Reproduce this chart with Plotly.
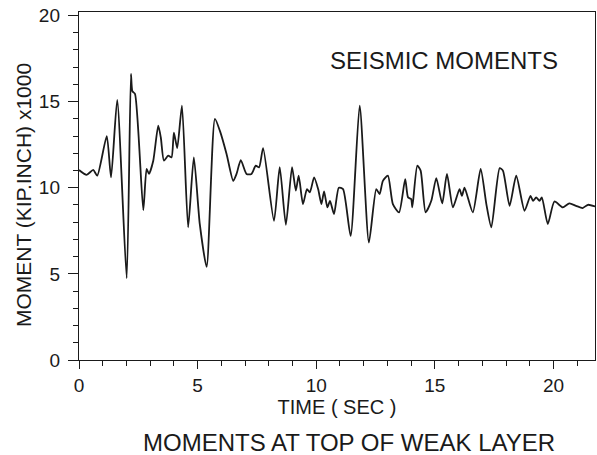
import plotly.graph_objects as go

time_sec = [0.0, 0.32, 0.6, 0.77, 1.17, 1.35, 1.61, 2.01, 2.19, 2.25, 2.36, 2.71, 2.85, 2.95,
            3.13, 3.34, 3.45, 3.58, 3.76, 3.9, 4.0, 4.14, 4.34, 4.6, 4.84, 5.09, 5.38, 5.73,
            5.94, 6.22, 6.5, 6.64, 6.82, 7.06, 7.27, 7.45, 7.59, 7.76, 8.22, 8.46, 8.72,
            8.98, 9.14, 9.26, 9.44, 9.61, 9.73, 9.91, 10.08, 10.22, 10.33, 10.47, 10.58,
            10.75, 10.95, 11.13, 11.45, 11.83, 12.22, 12.53, 12.67, 12.81, 13.02, 13.23,
            13.49, 13.75, 13.87, 14.0, 14.05, 14.26, 14.4, 14.61, 14.85, 15.06, 15.31,
            15.51, 15.76, 16.04, 16.14, 16.25, 16.6, 16.93, 17.17, 17.38, 17.73, 17.87,
            18.15, 18.43, 18.78, 19.03, 19.14, 19.27, 19.41, 19.51, 19.76, 20.04, 20.39,
            20.67, 20.95, 21.23, 21.45, 21.76]
moment_k = [11.03, 10.75, 11.03, 10.7, 13.0, 10.6, 15.1, 4.75, 16.6, 15.6, 15.45, 8.7, 11.09, 10.8,
            11.57, 13.6, 12.9, 11.57, 11.86, 11.76, 13.2, 12.3, 14.77, 7.7, 11.76, 7.9, 5.4, 14.0,
            13.3, 11.96, 10.4, 10.8, 11.6, 10.8, 10.8, 11.28, 11.18, 12.3, 8.08, 11.2, 7.85,
            11.2, 9.83, 10.7, 9.05, 9.92, 9.73, 10.6, 9.92, 9.05, 9.79, 8.86, 9.24,
            8.47, 10.0, 9.92, 7.2, 14.77, 6.82, 9.92, 9.63, 10.4, 10.7, 9.05,
            8.57, 10.5, 9.44, 9.34, 8.86, 11.28, 10.99, 8.57, 9.24, 10.56, 9.09,
            10.8, 8.86, 9.92, 9.53, 10.0, 8.57, 11.09, 9.05, 7.7, 11.14, 10.99,
            8.95, 10.7, 8.66, 9.53, 9.24, 9.44, 9.24, 9.44, 7.89, 9.2, 8.86,
            9.09, 8.95, 8.82, 9.01, 8.91]

x_ticks = [0, 5, 10, 15, 20]
y_ticks = [0, 5, 10, 15, 20]

FONT = "Liberation Sans, Arial, sans-serif"
INK = "#1a1a1a"

fig = go.Figure()
fig.add_trace(go.Scatter(x=time_sec, y=moment_k, mode="lines",
                         line=dict(color=INK, width=1.8, shape="spline", smoothing=0.6),
                         showlegend=False))

axis_common = dict(showline=True, linecolor=INK, linewidth=1.4, mirror=True,
                   ticks="outside", tickwidth=1.3, tickcolor=INK,
                   showgrid=False, zeroline=False,
                   tickfont=dict(family=FONT, size=19, color=INK),
                   minor=dict(ticks="outside", ticklen=5, tickwidth=1.1, tickcolor=INK, dtick=1))

fig.update_xaxes(range=[0, 21.75], tickvals=x_ticks, ticktext=[str(v) for v in x_ticks],
                 ticklen=8, ticklabelstandoff=0,
                 title=dict(text="TIME ( SEC )", font=dict(family=FONT, size=20, color=INK), standoff=4),
                 **axis_common)
fig.update_yaxes(range=[0, 20.2], tickvals=y_ticks, ticktext=[str(v) for v in y_ticks],
                 ticklen=10, ticklabelstandoff=4,
                 title=dict(text=""),
                 **axis_common)

fig.add_annotation(text="MOMENT (KIP.INCH) x1000", xref="paper", yref="paper",
                   x=(23 - 79) / 516, y=(360 - 195) / 348, textangle=-90,
                   xanchor="center", yanchor="middle", showarrow=False,
                   font=dict(family=FONT, size=21, color=INK))
fig.add_annotation(text="SEISMIC MOMENTS", xref="paper", yref="paper", x=0.708, y=0.862,
                   xanchor="center", yanchor="middle",
                   showarrow=False, font=dict(family=FONT, size=24, color=INK))
fig.add_annotation(text="MOMENTS AT TOP OF WEAK LAYER", xref="paper", yref="paper", x=0.524, y=-0.236,
                   xanchor="center", yanchor="middle", showarrow=False,
                   font=dict(family=FONT, size=24, color=INK))

fig.update_layout(width=597, height=455, margin=dict(l=79, r=2, t=12, b=95),
                  paper_bgcolor="white", plot_bgcolor="white")

fig.write_html("out.html")
